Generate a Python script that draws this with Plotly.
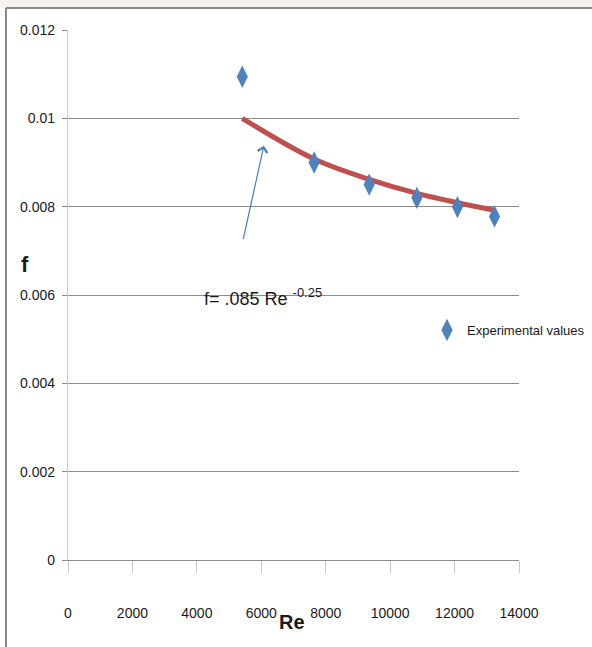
import plotly.graph_objects as go

# Experimental friction factor data
re_exp = [5410, 7640, 9350, 10830, 12090, 13240]
f_exp = [0.01094, 0.00900, 0.00850, 0.00820, 0.00799, 0.00778]

# Correlation curve f = .085 Re^-0.25 (values at the same Re)
re_fit = [5410, 7640, 9350, 10830, 12090, 13240]
f_fit = [0.01000, 0.00908, 0.00862, 0.00830, 0.00809, 0.00792]

x_ticks = [0, 2000, 4000, 6000, 8000, 10000, 12000, 14000]
x_tick_text = ["0", "2000", "4000", "6000", "8000", "10000", "12000", "14000"]
y_ticks = [0, 0.002, 0.004, 0.006, 0.008, 0.010, 0.012]
y_tick_text = ["0", "0.002", "0.004", "0.006", "0.008", "0.01", "0.012"]

FONT = "Liberation Sans, Arial, sans-serif"
TEXT = "#1a1a1a"
GRID = "#8c8c8c"
AXIS = "#c8c8c8"

fig = go.Figure()
fig.add_trace(go.Scatter(
    x=re_fit, y=f_fit, mode="lines", line=dict(color="#c0504d", width=5, shape="spline"),
    showlegend=False, hoverinfo="skip",
))
fig.add_trace(go.Scatter(
    x=re_exp, y=f_exp, mode="markers", name="Experimental values",
    marker=dict(symbol="diamond-tall", size=16, color="#4f81bd"),
))

# Equation label with arrow pointing at the curve
fig.add_annotation(
    x=6080, y=0.00938, ax=5430, ay=0.00723, xref="x", yref="y", axref="x", ayref="y",
    text="", showarrow=True, arrowhead=4, arrowsize=1.6, arrowwidth=1.2, arrowcolor="#4a7ebb",
)
fig.add_annotation(
    x=4150, y=0.00596, xref="x", yref="y", xanchor="left", yanchor="middle",
    text="f= .085 Re <sup><span style='font-size:13px'>-0.25</span></sup>", showarrow=False,
    font=dict(family=FONT, size=18, color=TEXT),
)

# Axis titles
fig.add_annotation(x=-0.109, y=0.558, xref="paper", yref="paper", yanchor="middle",
                   text="<b>f</b>", showarrow=False, font=dict(family=FONT, size=22, color=TEXT))
fig.add_annotation(x=0.496, y=-0.117, xref="paper", yref="paper", yanchor="middle",
                   text="<b>Re</b>", showarrow=False, font=dict(family=FONT, size=20, color=TEXT))

# Chart frame (top and left edges)
fig.add_shape(type="rect", xref="paper", yref="paper", x0=-0.16, x1=1.2, y0=1.0415, y1=1.06,
              fillcolor="#f6f2ef", line=dict(width=0), layer="below")
fig.add_shape(type="line", xref="paper", yref="paper", x0=-0.1375, x1=1.2, y0=1.0415, y1=1.0415,
              line=dict(color="#8a8a8a", width=2))
fig.add_shape(type="line", xref="paper", yref="paper", x0=-0.1375, x1=-0.1375, y0=1.0415, y1=-0.2,
              line=dict(color="#8a8a8a", width=2))

fig.update_layout(
    width=592, height=647,
    margin=dict(l=68, r=73, t=30, b=87, autoexpand=False),
    paper_bgcolor="white", plot_bgcolor="white",
    font=dict(family=FONT, size=14, color=TEXT),
    legend=dict(x=0.796, y=0.434, xanchor="left", yanchor="middle", bgcolor="rgba(0,0,0,0)",
                font=dict(family=FONT, size=13, color=TEXT), itemwidth=30),
    xaxis=dict(
        range=[0, 14000], tickvals=x_ticks, ticktext=x_tick_text, ticks="outside", ticklen=12,
        tickcolor=AXIS, tickwidth=1.3, showgrid=False, zeroline=False, showline=True,
        linecolor=GRID, linewidth=1.3, ticklabelstandoff=28,
        tickfont=dict(family=FONT, size=14, color=TEXT),
    ),
    yaxis=dict(
        range=[0, 0.012], tickvals=y_ticks, ticktext=y_tick_text, ticks="outside", ticklen=5,
        tickcolor=GRID, tickwidth=1.3, showgrid=True, gridcolor=GRID, gridwidth=1.3,
        zeroline=False, showline=True, linecolor=AXIS, linewidth=1.3,
        ticklabelstandoff=4, tickfont=dict(family=FONT, size=14, color=TEXT),
    ),
)

fig.write_html("out.html")
